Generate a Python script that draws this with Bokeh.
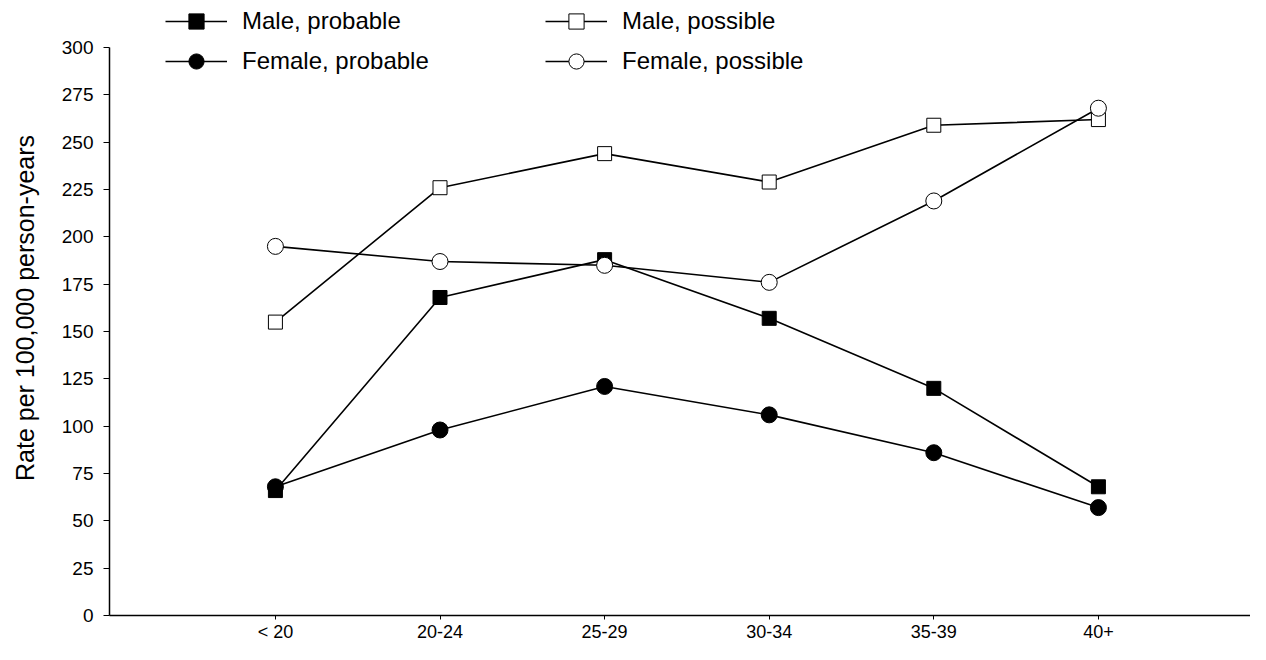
from bokeh.plotting import figure
from bokeh.models import Range1d, FixedTicker, Legend, LegendItem, ColumnDataSource
from bokeh.embed import file_html
from bokeh.resources import INLINE

categories = ["< 20", "20-24", "25-29", "30-34", "35-39", "40+"]
male_probable = [66, 168, 188, 157, 120, 68]
female_probable = [68, 98, 121, 106, 86, 57]
male_possible = [155, 226, 244, 229, 259, 262]
female_possible = [195, 187, 185, 176, 219, 268]
y_ticks = list(range(0, 301, 25))

FONT = "Liberation Sans"
xs = list(range(len(categories)))

p = figure(width=1250, height=644, output_backend="svg", toolbar_location=None,
           x_range=Range1d(-1.008, 5.924), y_range=Range1d(0, 324.9),
           min_border_left=109, min_border_right=0, min_border_top=0, min_border_bottom=28)
p.outline_line_color = None
p.xgrid.visible = False
p.ygrid.visible = False
p.background_fill_color = "white"
p.border_fill_color = "white"

def series(vals, marker, fill, size):
    src = ColumnDataSource(dict(x=xs, y=vals))
    ln = p.line("x", "y", source=src, line_color="black", line_width=1.6)
    sc = p.scatter("x", "y", source=src, marker=marker, size=size,
                   fill_color=fill, line_color="black", line_width=1)
    return ln, sc

mp = series(male_probable, "square", "black", 14)
fp = series(female_probable, "circle", "black", 16)
ms = series(male_possible, "square", "white", 14)
fs = series(female_possible, "circle", "white", 16)

# axes
p.xaxis.ticker = FixedTicker(ticks=xs)
p.xaxis.major_label_overrides = {i: c for i, c in enumerate(categories)}
p.xaxis.major_tick_in = 0
p.xaxis.major_tick_out = 4
p.xaxis.minor_tick_line_color = None
p.xaxis.axis_line_width = 1.5
p.xaxis.major_label_text_font = FONT
p.xaxis.major_label_text_font_size = "18px"
p.xaxis.major_label_text_color = "black"
p.xaxis.major_label_standoff = 2

p.yaxis.ticker = FixedTicker(ticks=y_ticks)
p.yaxis.bounds = (0, 300)
p.yaxis.major_tick_in = 0
p.yaxis.major_tick_out = 6
p.yaxis.minor_tick_line_color = None
p.yaxis.axis_line_width = 1.5
p.yaxis.major_label_text_font = FONT
p.yaxis.major_label_text_font_size = "19px"
p.yaxis.major_label_text_color = "black"
p.yaxis.major_label_standoff = 10
p.yaxis.axis_label = "Rate per 100,000 person-years"
p.yaxis.axis_label_text_font = FONT
p.yaxis.axis_label_text_font_size = "25px"
p.yaxis.axis_label_text_font_style = "normal"
p.yaxis.axis_label_text_color = "black"
p.yaxis.axis_label_standoff = 20

def make_legend(items, x):
    lg = Legend(items=items, location=(x, 535), orientation="vertical",
                glyph_width=62, glyph_height=38, label_height=24,
                label_standoff=15, spacing=2, padding=0, margin=0,
                border_line_color=None, background_fill_alpha=0,
                label_text_font=FONT, label_text_font_size="24px",
                label_text_color="black")
    p.add_layout(lg, "center")

make_legend([LegendItem(label="Male, probable", renderers=list(mp)),
             LegendItem(label="Female, probable", renderers=list(fp))], 56)
make_legend([LegendItem(label="Male, possible", renderers=list(ms)),
             LegendItem(label="Female, possible", renderers=list(fs))], 436)

open("out.html", "w").write(file_html(p, INLINE))
